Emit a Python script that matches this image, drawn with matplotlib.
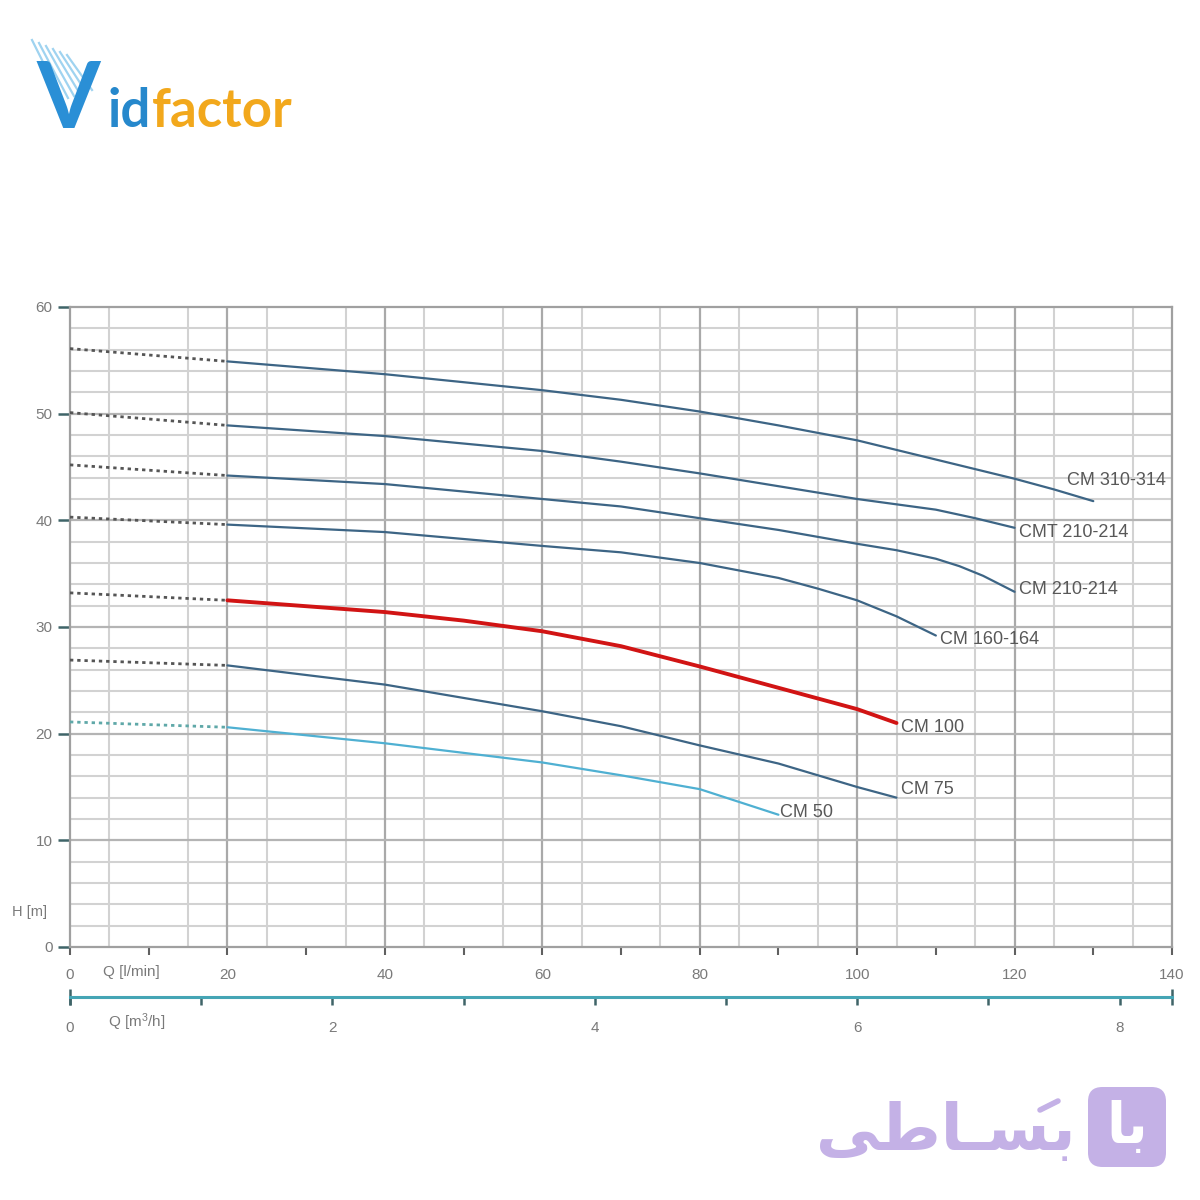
import numpy as np
import matplotlib.pyplot as plt
from matplotlib.patches import FancyBboxPatch
from matplotlib.lines import Line2D

plt.rcParams['font.family'] = ['Liberation Sans', 'DejaVu Sans']
plt.rcParams['mathtext.fontset'] = 'custom'
plt.rcParams['mathtext.rm'] = 'Liberation Sans'
plt.rcParams['mathtext.it'] = 'Liberation Sans'

# pump curves: Q in l/min, H in m
# the part up to 20 l/min is drawn dotted
names = ['CM 310-314', 'CMT 210-214', 'CM 210-214', 'CM 160-164', 'CM 100', 'CM 75', 'CM 50']

q_310 = [0, 20, 40, 60, 70, 80, 90, 100, 105, 110, 115, 120, 125, 130]
h_310 = [56.1, 54.9, 53.7, 52.2, 51.3, 50.2, 48.9, 47.5, 46.6, 45.7, 44.8, 43.9, 42.9, 41.8]

q_cmt = [0, 20, 40, 60, 70, 80, 90, 100, 105, 110, 115, 120]
h_cmt = [50.1, 48.9, 47.9, 46.5, 45.5, 44.4, 43.2, 42.0, 41.5, 41.0, 40.2, 39.3]

q_210 = [0, 20, 40, 60, 70, 80, 90, 100, 105, 110, 113, 116, 120]
h_210 = [45.2, 44.2, 43.4, 42.0, 41.3, 40.2, 39.1, 37.8, 37.2, 36.4, 35.7, 34.8, 33.3]

q_160 = [0, 20, 40, 60, 70, 80, 85, 90, 95, 100, 105, 110]
h_160 = [40.3, 39.6, 38.9, 37.6, 37.0, 36.0, 35.3, 34.6, 33.6, 32.5, 31.0, 29.2]

q_100 = [0, 20, 40, 50, 60, 70, 80, 90, 100, 105]
h_100 = [33.2, 32.5, 31.4, 30.6, 29.6, 28.2, 26.3, 24.3, 22.3, 21.0]

q_75 = [0, 20, 40, 60, 70, 80, 90, 100, 105]
h_75 = [26.9, 26.4, 24.6, 22.1, 20.7, 18.9, 17.2, 15.0, 14.0]

q_50 = [0, 20, 40, 60, 70, 80, 85, 90]
h_50 = [21.1, 20.6, 19.1, 17.3, 16.1, 14.8, 13.6, 12.4]

dotted_until = 20
lmin_to_m3h = 0.06

x_ticks = list(range(0, 141, 10))
x_labels = ['0', '', '20', '', '40', '', '60', '', '80', '', '100', '', '120', '', '140']
y_ticks = list(range(0, 61, 10))
y_labels = ['0', '10', '20', '30', '40', '50', '60']
m3h_ticks = list(range(0, 9))
m3h_labels = ['0', '', '2', '', '4', '', '6', '', '8']

# styles
steel = '#3d6585'
curve_colors = [steel, steel, steel, steel, '#d11414', steel, '#4fb0d2']
curve_widths = [1.6, 1.6, 1.6, 1.6, 2.8, 1.6, 1.6]
dot_colors = ['#555555'] * 6 + ['#5fa8a8']
label_offsets = [(-19, 15), (3, -3.5), (3, 1.5), (3, -3), (3, -3), (3, 6), (1, 1.5)]
txt_gray = '#585858'
tick_gray = '#7a7a7a'

fig = plt.figure(figsize=(12, 12), dpi=100)
ax = fig.add_axes([70 / 1200, 253 / 1200, 1102 / 1200, 640 / 1200])
ax.set_xlim(0, 140)
ax.set_ylim(0, 60)

# grid
ax.set_xticks(np.arange(0, 141, 5), minor=True)
ax.set_yticks(np.arange(0, 61, 2), minor=True)
ax.grid(which='minor', color='#d2d2d2', lw=1.5)
ax.vlines(np.arange(20, 140, 20), 0, 60, color='#a9a9a9', lw=1.6, zorder=1.6)
ax.hlines(np.arange(10, 60, 10), 0, 140, color='#b4b4b4', lw=1.6, zorder=1.6)
for s in ax.spines.values():
    s.set_color('#a0a0a0')
    s.set_linewidth(1.6)

ax.set_xticks(x_ticks)
ax.set_xticklabels(x_labels)
ax.set_yticks(y_ticks)
ax.set_yticklabels(y_labels)
ax.tick_params(which='minor', length=0)
ax.tick_params(axis='x', length=6, width=1.5, color='#606060', pad=9,
               labelsize=11, labelcolor=tick_gray)
ax.tick_params(axis='y', length=8.5, width=1.8, color='#3f6468', pad=4,
               labelsize=11, labelcolor=tick_gray)

all_q = [q_310, q_cmt, q_210, q_160, q_100, q_75, q_50]
all_h = [h_310, h_cmt, h_210, h_160, h_100, h_75, h_50]

for i in range(len(names)):
    q = np.array(all_q[i])
    h = np.array(all_h[i])
    lo = q <= dotted_until
    hi = q >= dotted_until
    ax.plot(q[lo], h[lo], color=dot_colors[i], lw=2.0, ls=(0, (1.2, 1.4)), zorder=3)
    ax.plot(q[hi], h[hi], color=curve_colors[i], lw=curve_widths[i], zorder=3,
            solid_capstyle='round', solid_joinstyle='round')
    ax.annotate(names[i], (q[-1], h[-1]), xytext=label_offsets[i],
                textcoords='offset points', ha='left', va='center',
                fontsize=13, color=txt_gray)

fig.text(30 / 1200, 1 - 912 / 1200, 'H [m]', ha='center', va='center',
         fontsize=10.5, color=tick_gray)
fig.text(131 / 1200, 1 - 972 / 1200, 'Q [l/min]', ha='center', va='center',
         fontsize=11, color=tick_gray)

# second flow scale in m3/h
ax2 = fig.add_axes([70 / 1200, 1 - 1005 / 1200, 1102 / 1200, 16 / 1200])
ax2.set_xlim(0, 140 * lmin_to_m3h)
ax2.set_ylim(-1, 1)
ax2.patch.set_alpha(0)
for k in ['left', 'right', 'top']:
    ax2.spines[k].set_visible(False)
ax2.spines['bottom'].set_position(('data', 0))
ax2.spines['bottom'].set_color('#45a5b5')
ax2.spines['bottom'].set_linewidth(2.2)
ax2.set_yticks([])
ax2.set_xticks(m3h_ticks)
ax2.set_xticklabels(m3h_labels)
ax2.tick_params(axis='x', length=6, width=1.8, color='#3f6468', pad=11,
                labelsize=11, labelcolor=tick_gray)
ax2.vlines(ax2.get_xlim(), -1, 1, color='#3f6468', lw=1.8, clip_on=False)
fig.text(137 / 1200, 1 - 1022 / 1200, r'Q [m$^{3}$/h]', ha='center', va='center',
         fontsize=11, color=tick_gray)

# Vidfactor logo (top left)
for k in range(6):
    fig.add_artist(Line2D([(32 + 7 * k) / 1200, (62 + 6 * k) / 1200],
                          [1 - (40 + 3 * k) / 1200, 1 - (100 - 2 * k) / 1200],
                          color='#9fd3f0', lw=1.6))
fig.text(36 / 1200, 1 - 128 / 1200, 'V', fontsize=66, fontweight='bold',
         family='Lato', color='#2a8fd6', ha='left', va='baseline')
fig.text(108 / 1200, 1 - 127 / 1200, 'id', fontsize=38, fontweight='bold',
         family='Lato', color='#2688cc', ha='left', va='baseline')
fig.text(152 / 1200, 1 - 127 / 1200, 'factor', fontsize=38, fontweight='bold',
         family='Lato', color='#f2a81c', ha='left', va='baseline')

# Basati logo (bottom right)
purple = '#c4b1e6'
fig.add_artist(FancyBboxPatch((1088 / 1200, 1 - 1167 / 1200), 78 / 1200, 80 / 1200,
                              boxstyle='round,pad=0,rounding_size=0.012',
                              transform=fig.transFigure, fc=purple, ec='none'))
fig.text(1127 / 1200, 1 - 1128 / 1200, '\uFE8E\uFE91', fontsize=40, fontweight='bold',
         family=['DejaVu Sans'], color='white', ha='center', va='center')
fig.text(1076 / 1200, 1 - 1132 / 1200, '\uFEF0\uFEC3\uFE8E\u0640\uFEB4\uFE91',
         fontsize=46, fontweight='bold', family=['DejaVu Sans'], color=purple,
         ha='right', va='center')
# fatha over the first letter
fig.add_artist(Line2D([1040 / 1200, 1058 / 1200], [1 - 1110 / 1200, 1 - 1101 / 1200],
                      color=purple, lw=4, solid_capstyle='round'))

fig.savefig('out.png', dpi=100, facecolor='white')
